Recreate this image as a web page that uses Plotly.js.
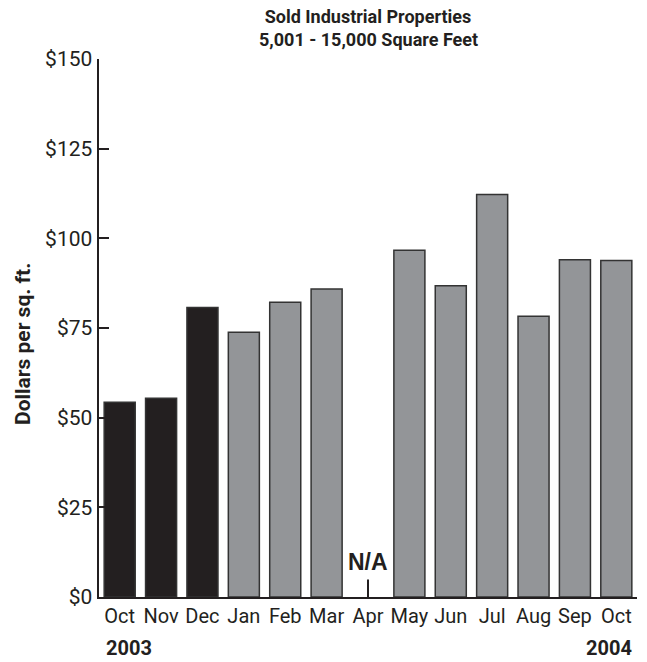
<!DOCTYPE html>
<html>
<head>
<meta charset="utf-8">
<script src="https://cdn.plot.ly/plotly-3.0.1.min.js"></script>
<style>html,body{margin:0;padding:0;background:#fff;}#chart{width:647px;height:662px;}</style>
</head>
<body>
<div id="chart"></div>
<script>
// Data
const months = ['Oct','Nov','Dec','Jan','Feb','Mar','Apr','May','Jun','Jul','Aug','Sep','Oct'];
const years  = [2003,2003,2003,2004,2004,2004,2004,2004,2004,2004,2004,2004,2004];
const values = [54.3,55.4,80.7,73.8,82.2,85.9,null,96.7,86.8,112.2,78.3,94.0,93.8];
const yTicks = [0,25,50,75,100,125,150];
const yTickText = yTicks.map(v => '$' + v);
const yearLabels = ['2003','2004'];
const naLabel = 'N/A';
const titleLines = ['Sold Industrial Properties', '5,001 - 15,000 Square Feet'];
const yTitle = 'Dollars per sq. ft.';

const FONT = 'Roboto, "Liberation Sans", sans-serif';
const INK = '#231f20';

const idx = months.map((m,i)=>i);
const colors = years.map(y => y === 2003 ? '#231f20' : '#939598');
const naIndex = values.findIndex(v => v === null);

const trace = {
  type: 'bar',
  x: idx,
  y: values,
  marker: {color: colors, line: {color: '#333333', width: 1.5}},
  hoverinfo: 'skip',
  width: 0.75
};

const layout = {
  width: 647, height: 662,
  margin: {l: 99, r: 10, t: 59, b: 65},
  paper_bgcolor: '#fff', plot_bgcolor: '#fff',
  showlegend: false,
  font: {family: FONT, color: INK},
  title: {
    text: '<b>' + titleLines[0] + '</b>',
    font: {family: FONT, size: 18, color: INK},
    x: 0.5, xref: 'paper', xanchor: 'center',
    y: 1 - 17/662, yref: 'container', yanchor: 'middle'
  },
  xaxis: {
    type: 'linear',
    range: [-0.5, 12.5],
    tickvals: idx,
    ticktext: months,
    ticks: '',
    showgrid: false, zeroline: false,
    showline: true, linecolor: INK, linewidth: 2,
    tickfont: {family: FONT, size: 20, color: INK},
    fixedrange: true
  },
  yaxis: {
    range: [0, 150],
    tickvals: yTicks,
    ticktext: yTickText,
    ticks: 'inside', ticklen: 10, tickwidth: 2, tickcolor: INK,
    showgrid: false, zeroline: false,
    showline: true, linecolor: INK, linewidth: 2.5,
    tickfont: {family: FONT, size: 21, color: INK},
    fixedrange: true
  },
  annotations: [
    {x: 0.5, y: 1, xref: 'paper', yref: 'paper', text: '<b>' + titleLines[1] + '</b>', showarrow: false,
     xanchor: 'center', yanchor: 'middle', yshift: 20, font: {family: FONT, size: 18, color: INK}},
    {x: 0, y: (597-344)/538, xref: 'paper', yref: 'paper', text: '<b>' + yTitle + '</b>',
     textangle: -90, showarrow: false, xanchor: 'center', yanchor: 'middle', xshift: -76,
     font: {family: FONT, size: 21, color: INK}},
    {x: -0.5, y: 0, xref: 'x', yref: 'paper', text: '<b>' + yearLabels[0] + '</b>', showarrow: false,
     xanchor: 'left', yanchor: 'middle', xshift: 5, yshift: -51, font: {family: FONT, size: 20, color: INK}},
    {x: 12.5, y: 0, xref: 'x', yref: 'paper', text: '<b>' + yearLabels[1] + '</b>', showarrow: false,
     xanchor: 'right', yanchor: 'middle', xshift: -3, yshift: -51, font: {family: FONT, size: 20, color: INK}},
    {x: naIndex, y: 0, xref: 'x', yref: 'y', text: '<b>' + naLabel + '</b>', showarrow: true, arrowhead: 0,
     arrowwidth: 2, arrowcolor: INK, ax: 0, ay: -35, standoff: 0, borderpad: 4,
     font: {family: '"Liberation Sans", Arial, sans-serif', size: 23, color: INK}}
  ]
};

Plotly.newPlot('chart', [trace], layout, {displayModeBar: false, staticPlot: true});
</script>
</body>
</html>
